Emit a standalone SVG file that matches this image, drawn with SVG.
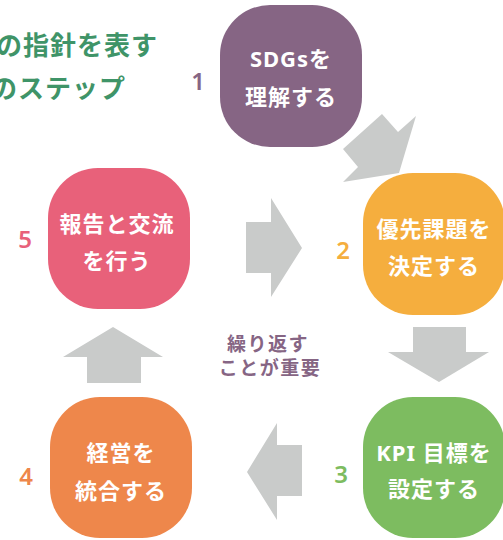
<svg xmlns="http://www.w3.org/2000/svg" width="503" height="540" viewBox="0 0 503 540">
<style>
text{font-family:"Noto Sans","Noto Sans CJK JP",sans-serif;}
.nt{fill:#ffffff;font-size:22px;font-weight:bold;text-anchor:middle;letter-spacing:1px;}
.num{font-size:24px;font-weight:600;text-anchor:middle;}
.title{fill:#3f9468;font-size:26px;font-weight:bold;letter-spacing:1px;}
.arrow{fill:#c9cbca;}
</style>
<rect width="503" height="540" fill="#ffffff"/>
<g id="title">
<text class="title" x="-4" y="55">の指針を表す</text>
<text class="title" x="-9" y="98" letter-spacing="2">のステップ</text>
</g>
<g id="connectors">
<polygon class="arrow" points="382,114 398,132 416,116 399,173 343,182 358,167 343,149"/>
<polygon class="arrow" points="413,327 466,327 466,352 489,352 439,382 388,352 413,352"/>
<polygon class="arrow" points="302,445 277,445 277,423 247,472 277,520 277,496 302,496"/>
<polygon class="arrow" points="87,383 141,383 141,357 163,357 113,327 63,357 87,357"/>
<polygon class="arrow" points="246,222 271,222 271,198 302,248 271,297 271,273 246,273"/>
</g>
<g id="node1">
<rect x="220" y="5" width="142" height="142" rx="50" fill="#866584"/>
<text class="nt" x="291" y="67">SDGsを</text>
<text class="nt" x="291" y="105">理解する</text>
<text class="num" x="198" y="90" fill="#866584">1</text>
</g>
<g id="node2">
<rect x="363" y="173" width="142" height="142" rx="50" fill="#f5ae3e"/>
<text class="nt" x="434" y="237">優先課題を</text>
<text class="nt" x="434" y="274">決定する</text>
<text class="num" x="343" y="259" fill="#f5ae3e">2</text>
</g>
<g id="node3">
<rect x="363" y="397" width="142" height="141" rx="50" fill="#7dbc60"/>
<text class="nt" x="434" y="461">KPI 目標を</text>
<text class="nt" x="434" y="497">設定する</text>
<text class="num" x="341" y="483" fill="#7dbc60">3</text>
</g>
<g id="node4">
<rect x="50" y="397" width="142" height="141" rx="50" fill="#ee874b"/>
<text class="nt" x="121" y="461">経営を</text>
<text class="nt" x="121" y="499">統合する</text>
<text class="num" x="26" y="485" fill="#ee874b">4</text>
</g>
<g id="node5">
<rect x="48" y="168" width="142" height="141" rx="50" fill="#e8617a"/>
<text class="nt" x="117" y="232">報告と交流</text>
<text class="nt" x="117" y="269">を行う</text>
<text class="num" x="25" y="248" fill="#e8617a">5</text>
</g>
<g id="center-label">
<text x="268" y="351" fill="#866584" font-size="19" font-weight="bold" text-anchor="middle" letter-spacing="1.5">繰り返す</text>
<text x="270" y="375" fill="#866584" font-size="19" font-weight="bold" text-anchor="middle" letter-spacing="1.5">ことが重要</text>
</g>
</svg>
